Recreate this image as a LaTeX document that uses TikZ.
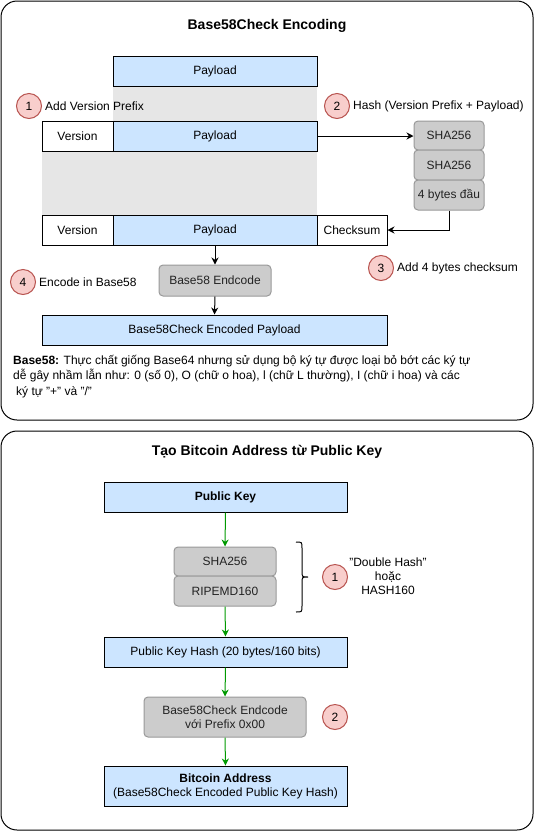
\documentclass[tikz,border=0pt]{standalone}
\usepackage{fontspec}
\setmainfont{Liberation Sans}
\usetikzlibrary{arrows.meta}
\definecolor{blueF}{HTML}{CCE5FF}
\definecolor{grayF}{HTML}{CCCCCC}
\definecolor{grayD}{HTML}{999999}
\definecolor{bandF}{HTML}{E6E6E6}
\definecolor{redF}{HTML}{F8CECC}
\definecolor{redD}{HTML}{B85450}
\definecolor{greenA}{HTML}{009900}
\definecolor{textG}{HTML}{222222}
\newcommand{\dqt}{\symbol{34}}
\begin{document}
\begin{tikzpicture}[x=1pt,y=-1pt,
  font=\fontsize{12}{14}\selectfont,
  box/.style={draw=black, line width=1pt, minimum height=30pt, inner sep=0pt, anchor=center},
  bluebox/.style={box, fill=blueF},
  whitebox/.style={box, fill=white},
  graybox/.style={draw=grayD, fill=grayF, rounded corners=4pt, line width=1pt, inner sep=0pt, text=textG, anchor=center},
  num/.style={circle, draw=redD, fill=redF, line width=1pt, minimum size=25pt, inner sep=0pt},
  lbl/.style={anchor=west, inner sep=0pt},
  arr/.style={-{Stealth[length=7pt,width=7pt]}, line width=1pt},
  garr/.style={arr, draw=greenA},
  container/.style={draw=black, line width=1pt, rounded corners=16pt},
  title/.style={font=\fontsize{14}{17}\selectfont\bfseries}
]
\useasboundingbox (0,0) rectangle (540,831);

% ================= Top panel =================
\draw[container] (1,1) rectangle (533,420);
\node[title] (t1) at (267,26) {Base58Check Encoding};

% gray bands
\fill[bandF] (113,86) rectangle (317,121);
\fill[bandF] (42,151) rectangle (317,215);

% row 1
\node[bluebox, minimum width=204pt] (p1) at (215,71) {Payload};

% row 2
\node[whitebox, minimum width=71pt] (v2) at (77.5,136) {Version};
\node[bluebox, minimum width=204pt] (p2) at (215,136) {Payload};

% row 3
\node[whitebox, minimum width=71pt] (v3) at (77.5,230) {Version};
\node[bluebox, minimum width=204pt] (p3) at (215,230) {Payload};
\node[whitebox, minimum width=70pt] (c3) at (352,230) {Checksum};

% hash stack
\node[graybox, minimum width=70pt, minimum height=29pt] (s1) at (449,135.5) {SHA256};
\node[graybox, minimum width=70pt, minimum height=30pt] (s2) at (449,165) {SHA256};
\node[graybox, minimum width=70pt, minimum height=30pt] (s3) at (449,195) {4 bytes đầu};

% encode
\node[graybox, minimum width=112pt, minimum height=31pt] (enc) at (215,280.5) {Base58 Endcode};
\node[bluebox, minimum width=345pt] (out) at (214.5,330) {Base58Check Encoded Payload};

% connectors
\draw[arr] (p2.east) -- (p2.east -| s1.west);
\draw[arr] (s3.south) |- (c3.east);
\draw[arr] (p3.south) -- (enc.north);
\draw[arr] (enc.south) -- (out.north);

% step markers
\node[num] (n1) at (29,106) {1};
\node[lbl] (l1) at ([xshift=3pt]n1.east) {Add Version Prefix};
\node[num] (n2) at (337,106) {2};
\node[lbl] (l2) at ([xshift=3pt]n2.east) {Hash (Version Prefix + Payload)};
\node[num] (n3) at (381,268) {3};
\node[lbl] (l3) at ([xshift=3pt]n3.east) {Add 4 bytes checksum};
\node[num] (n4) at (23,282) {4};
\node[lbl] (l4) at ([xshift=3pt]n4.east) {Encode in Base58};

% note
\node[anchor=north west, align=left, inner sep=0pt, font=\fontsize{12}{15.5}\selectfont] (note) at (13,355)
 {\textbf{Base58:} Thực chất giống Base64 nhưng sử dụng bộ ký tự được loại bỏ bớt các ký tự\\
  dễ gây nhầm lẫn như: 0 (số 0), O (chữ o hoa), l (chữ L thường), I (chữ i hoa) và các\\
  \hspace*{3pt}ký tự \dqt+\dqt{} và \dqt/\dqt};

% ================= Bottom panel =================
\draw[container] (1,431) rectangle (533,830);
\node[title] (t2) at (267,452) {Tạo Bitcoin Address từ Public Key};

\node[bluebox, minimum width=243pt] (pk) at (225.5,497) {\textbf{Public Key}};
\node[graybox, minimum width=102pt, minimum height=29pt] (sha) at (225,561.5) {SHA256};
\node[graybox, minimum width=102pt, minimum height=30pt] (rip) at (225,591) {RIPEMD160};
\node[bluebox, minimum width=243pt] (pkh) at (225.5,652) {Public Key Hash (20 bytes/160 bits)};
\node[graybox, minimum width=162pt, minimum height=40pt, align=center] (b58) at (225,717) {Base58Check Endcode\\với Prefix 0x00};
\node[bluebox, minimum width=243pt, minimum height=40pt, align=center] (addr) at (225.5,786) {\textbf{Bitcoin Address}\\(Base58Check Encoded Public Key Hash)};

\draw[garr] (pk.south) -- (sha.north);
\draw[garr] (rip.south) -- (pkh.north);
\draw[garr] (pkh.south) -- (b58.north);
\draw[garr] (b58.south) -- (addr.north);

% brace
\draw[line width=1pt] (296,542) .. controls (302,542) .. (302,548) -- (302,571)
  .. controls (302,577) .. (308,577) .. controls (302,577) .. (302,583) -- (302,606)
  .. controls (302,612) .. (296,612);

\node[num] (m1) at (335,577) {1};
\node[align=center, inner sep=0pt] (dh) at (388,576) {\dqt Double Hash\dqt\\hoặc\\HASH160};
\node[num] (m2) at (335,717) {2};
\end{tikzpicture}
\end{document}
